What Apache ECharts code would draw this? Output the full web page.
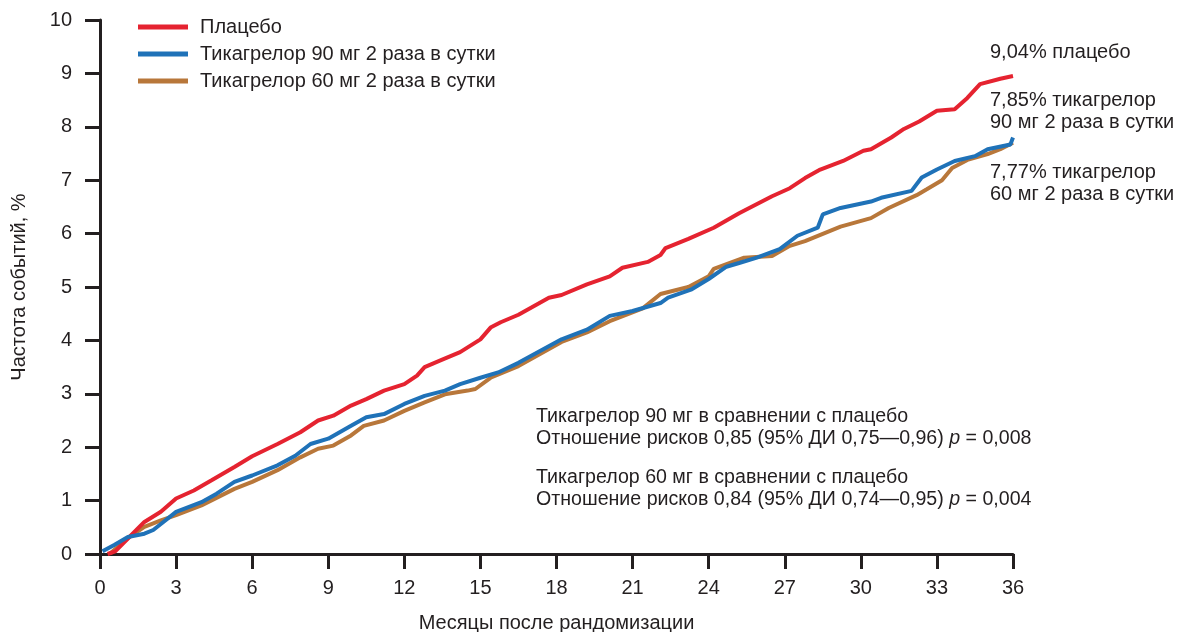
<!DOCTYPE html>
<html>
<head>
<meta charset="utf-8">
<script src="https://cdn.jsdelivr.net/npm/echarts@6/dist/echarts.min.js"></script>
<style>html,body{margin:0;padding:0;background:#fff}#c{width:1178px;height:632px}</style>
</head>
<body>
<div id="c"></div>
<script>
const seriesNames = ['Плацебо', 'Тикагрелор 90 мг 2 раза в сутки', 'Тикагрелор 60 мг 2 раза в сутки'];
const xTicks = [0,3,6,9,12,15,18,21,24,27,30,33,36];
const yTicks = [0,1,2,3,4,5,6,7,8,9,10];

const placeboMonths = [0.3,0.6,1.1,1.75,2.4,3,3.7,4.4,5.3,6,7,7.9,8.6,9.2,9.9,10.5,11.2,12,12.5,12.8,13.4,14.2,15,15.4,15.8,16.5,17.7,18.2,19.2,20.1,20.6,21.6,22.1,22.3,23.2,24.2,25.2,26.5,27.2,27.8,28.4,29.3,30.1,30.4,31.2,31.7,32.3,33,33.7,34.2,34.7,35.5,36];
const placeboValues = [0,0.05,0.29,0.6,0.79,1.04,1.19,1.38,1.63,1.83,2.06,2.28,2.5,2.59,2.78,2.9,3.06,3.18,3.34,3.5,3.62,3.78,4.02,4.24,4.34,4.48,4.8,4.85,5.05,5.2,5.36,5.47,5.6,5.73,5.9,6.11,6.38,6.7,6.85,7.04,7.2,7.36,7.55,7.58,7.8,7.96,8.1,8.3,8.33,8.54,8.8,8.9,8.95];

const tica90Months = [0.1,0.56,1.1,1.75,2.1,2.5,3,4,4.6,5.3,6,7,7.7,8.3,9,9.9,10.5,11.2,12,12.8,13.6,14.2,15,15.7,16.5,18.2,19.2,20.1,21,22.1,22.4,23.3,24,24.7,25.2,25.9,26.8,27.5,28.3,28.5,29.2,30.4,30.8,32,32.4,33,33.7,34.5,35,35.9,36];
const tica90Values = [0.05,0.17,0.32,0.38,0.45,0.6,0.79,0.97,1.13,1.35,1.47,1.66,1.84,2.06,2.16,2.4,2.56,2.62,2.81,2.96,3.06,3.18,3.3,3.4,3.58,4.02,4.2,4.46,4.55,4.7,4.8,4.95,5.15,5.38,5.45,5.55,5.71,5.96,6.11,6.36,6.48,6.6,6.67,6.8,7.05,7.2,7.36,7.45,7.58,7.67,7.8];

const tica60Months = [0.4,1.1,1.75,2.4,3,4,5.3,6,7,7.9,8.6,9.2,9.9,10.4,11.2,12,12.8,13.6,14.5,14.8,15.4,16.5,18.2,19.2,20.1,21.4,22.1,23.2,24,24.2,25.4,26.5,27.2,27.8,29.2,30.4,31.1,32.2,32.6,33.2,33.6,34.2,35,35.5,36];
const tica60Values = [0.01,0.3,0.51,0.63,0.73,0.91,1.22,1.35,1.57,1.81,1.97,2.03,2.22,2.4,2.5,2.68,2.84,2.99,3.06,3.09,3.3,3.52,3.97,4.15,4.36,4.6,4.87,5.0,5.2,5.34,5.55,5.58,5.77,5.86,6.13,6.29,6.48,6.72,6.83,7.0,7.23,7.38,7.49,7.58,7.7];

const colors = ['#e52330', '#1f72b8', '#b8773a'];
const FONT = '"Liberation Sans", Arial, sans-serif';
const TXT = '#231f20';
const FS = 20;
const FS_STAT = 19.6;

function zip(a, b) { return a.map((m, i) => [m, b[i]]); }

const chart = echarts.init(document.getElementById('c'), null, {renderer: 'canvas'});
const axisCommon = {
  axisLine: {show: true, lineStyle: {color: '#231f20', width: 3}},
  axisTick: {show: true, inside: false, length: 15, lineStyle: {color: '#231f20', width: 3}},
  splitLine: {show: false},
  axisLabel: {color: TXT, fontSize: FS, fontFamily: FONT}
};
chart.setOption({
  animation: false,
  textStyle: {fontFamily: FONT},
  grid: {left: 100, right: 165, top: 20, bottom: 78, containLabel: false, outerBoundsMode: 'none'},
  legend: {
    orient: 'vertical', left: 138, top: 16, padding: 0,
    data: seriesNames, icon: 'rect', itemWidth: 50, itemHeight: 5, itemGap: 5,
    textStyle: {color: TXT, fontSize: FS, fontFamily: FONT, lineHeight: 22, padding: [0, 0, 0, 7]}
  },
  xAxis: Object.assign({}, axisCommon, {
    type: 'value', min: 0, max: 36, interval: 3,
    axisLabel: Object.assign({}, axisCommon.axisLabel, {margin: 24, formatter: v => xTicks.includes(v) ? String(v) : ''}),
    name: 'Месяцы после рандомизации', nameLocation: 'middle', nameGap: 59,
    nameTextStyle: {color: TXT, fontSize: FS, fontFamily: FONT}
  }),
  yAxis: Object.assign({}, axisCommon, {
    type: 'value', min: 0, max: 10, interval: 1,
    axisLabel: Object.assign({}, axisCommon.axisLabel, {margin: 28, formatter: v => yTicks.includes(v) ? String(v) : ''}),
    name: 'Частота событий, %', nameLocation: 'middle', nameGap: 71,
    nameTextStyle: {color: TXT, fontSize: FS, fontFamily: FONT}
  }),
  series: [
    {name: seriesNames[0], type: 'line', data: zip(placeboMonths, placeboValues), showSymbol: false, z: 3,
     lineStyle: {color: colors[0], width: 4}, itemStyle: {color: colors[0]}},
    {name: seriesNames[1], type: 'line', data: zip(tica90Months, tica90Values), showSymbol: false, z: 4,
     lineStyle: {color: colors[1], width: 4}, itemStyle: {color: colors[1]}},
    {name: seriesNames[2], type: 'line', data: zip(tica60Months, tica60Values), showSymbol: false, z: 2,
     lineStyle: {color: colors[2], width: 4}, itemStyle: {color: colors[2]}}
  ],
  graphic: [
    {type: 'text', left: 990, top: 41, style: {text: '9,04% плацебо', fill: TXT, font: FS + 'px ' + FONT, lineHeight: 22}},
    {type: 'text', left: 990, top: 90, style: {text: '7,85% тикагрелор\n90 мг 2 раза в сутки', fill: TXT, font: FS + 'px ' + FONT, lineHeight: 21.5}},
    {type: 'text', left: 990, top: 161, style: {text: '7,77% тикагрелор\n60 мг 2 раза в сутки', fill: TXT, font: FS + 'px ' + FONT, lineHeight: 22}},
    {type: 'text', left: 536, top: 406, style: {
      text: 'Тикагрелор 90 мг в сравнении с плацебо\nОтношение рисков 0,85 (95% ДИ 0,75—0,96) {i|p} = 0,008',
      fill: TXT, font: FS_STAT + 'px ' + FONT, lineHeight: 22,
      rich: {i: {fontStyle: 'italic', fontSize: FS_STAT, fontFamily: FONT, fill: TXT, lineHeight: 22}}
    }},
    {type: 'text', left: 536, top: 467, style: {
      text: 'Тикагрелор 60 мг в сравнении с плацебо\nОтношение рисков 0,84 (95% ДИ 0,74—0,95) {i|p} = 0,004',
      fill: TXT, font: FS_STAT + 'px ' + FONT, lineHeight: 22,
      rich: {i: {fontStyle: 'italic', fontSize: FS_STAT, fontFamily: FONT, fill: TXT, lineHeight: 22}}
    }}
  ]
});
</script>
</body>
</html>
